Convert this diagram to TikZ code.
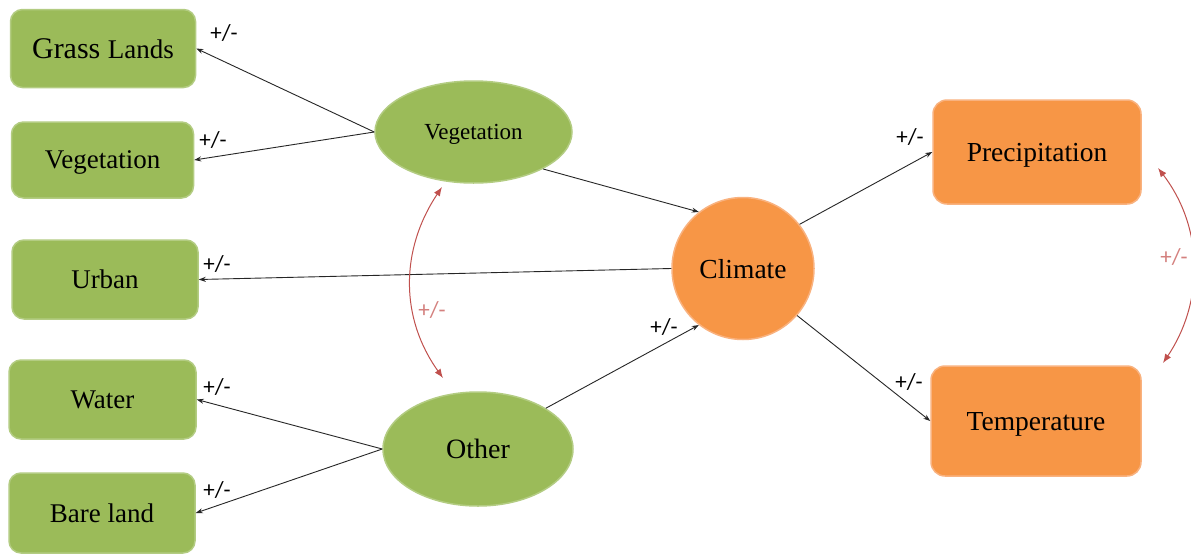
\documentclass[tikz,border=0pt]{standalone}
\usepackage{fontspec}
\setmainfont{Liberation Serif}
\newfontfamily\labelfont{Carlito}
\usetikzlibrary{arrows.meta,shapes.geometric}
\definecolor{leafgreen}{HTML}{9BBB59}
\definecolor{leafedge}{HTML}{B3CC82}
\definecolor{sunorange}{HTML}{F79646}
\definecolor{sunedge}{HTML}{F9B27F}
\definecolor{linkred}{HTML}{C0504D}
\definecolor{signred}{HTML}{D4807E}
\tikzset{
  landbox/.style={rectangle, rounded corners=12pt, fill=leafgreen, draw=leafedge, line width=1.5pt,
    inner sep=0pt, text depth=0pt, font=\fontsize{27}{30}\selectfont},
  climbox/.style={rectangle, rounded corners=14pt, fill=sunorange, draw=sunedge, line width=1.5pt,
    inner sep=0pt, text depth=0pt, font=\fontsize{27.5}{30}\selectfont},
  groupoval/.style={ellipse, fill=leafgreen, draw=leafedge, line width=1.5pt, inner sep=0pt, text depth=0pt},
  link/.style={draw=black!85, line width=0.9pt, -{Stealth[length=7pt,width=5pt]}},
  redlink/.style={draw=linkred, line width=1pt, {Latex[length=9pt,width=7pt]}-{Latex[length=9pt,width=7pt]}},
  sign/.style={font=\labelfont\fontsize{23}{25}\selectfont, inner sep=0pt},
  redsign/.style={sign, text=signred},
}
\begin{document}
\begin{tikzpicture}[x=1pt, y=-1pt]
\useasboundingbox (0,0) rectangle (1191,557);
\fill[white] (0,0) rectangle (1191,557);

% land-cover classes
\node[landbox, minimum width=185pt, minimum height=78pt] (grass) at (103,48.5)
  {\fontsize{30}{32}\selectfont Grass \fontsize{27}{30}\selectfont Lands};
\node[landbox, minimum width=182pt, minimum height=76pt] (vegbox) at (102.5,160) {Vegetation};
\node[landbox, minimum width=186pt, minimum height=79pt] (urban) at (105,279.5) {Urban};
\node[landbox, minimum width=187pt, minimum height=79pt] (water) at (102.5,399.5) {Water};
\node[landbox, minimum width=186pt, minimum height=80pt] (bare) at (102,513) {Bare land};

% groups
\node[groupoval, minimum width=197pt, minimum height=102pt, font=\fontsize{23}{26}\selectfont] (vegE) at (473.5,132) {Vegetation};
\node[groupoval, minimum width=190pt, minimum height=114pt, font=\fontsize{28}{30}\selectfont] (other) at (478,449) {Other};

% climate
\node[circle, fill=sunorange, draw=sunedge, line width=1.5pt, minimum size=142pt, inner sep=0pt, text depth=0pt,
  font=\fontsize{27.5}{30}\selectfont] (climate) at (743,268.5) {Climate};
\node[climbox, minimum width=208pt, minimum height=104pt] (precip) at (1037,152) {Precipitation};
\node[climbox, minimum width=210pt, minimum height=110pt] (temp) at (1036,421) {Temperature};

% effects
\draw[link] (vegE.west) -- (grass.east);
\draw[link] (vegE.west) -- (vegbox.east);
\draw[link] (climate.west) -- (urban.east);
\draw[link] (other.west) -- (water.east);
\draw[link] (other.west) -- (bare.east);
\draw[link] (vegE.-28) -- (climate.128);
\draw[link] (other.31) -- (climate.232);
\draw[link] (climate.38) -- (precip.west);
\draw[link] (climate.-41) -- (temp.west);

% sign labels
\node[sign] (s1) at (224,33) {+/-};
\node[sign] (s2) at (213,140) {+/-};
\node[sign] (s3) at (217,264) {+/-};
\node[sign] (s4) at (217,387) {+/-};
\node[sign] (s5) at (217,490) {+/-};
\node[sign] (s6) at (664,327) {+/-};
\node[sign] (s7) at (910,137) {+/-};
\node[sign] (s8) at (909,382) {+/-};

% correlations
\coordinate (va) at (442,187);
\coordinate (ob) at (443,378);
\draw[redlink] (va) .. controls (400,250) and (400,318) .. (ob);
\node[redsign] (s9) at (432,310) {+/-};

\coordinate (pa) at (1158,168);
\coordinate (tb) at (1163,363);
\draw[redlink] (pa) .. controls (1204,228) and (1204,302) .. (tb);
\node[redsign] (s10) at (1174,257) {+/-};
\end{tikzpicture}
\end{document}
